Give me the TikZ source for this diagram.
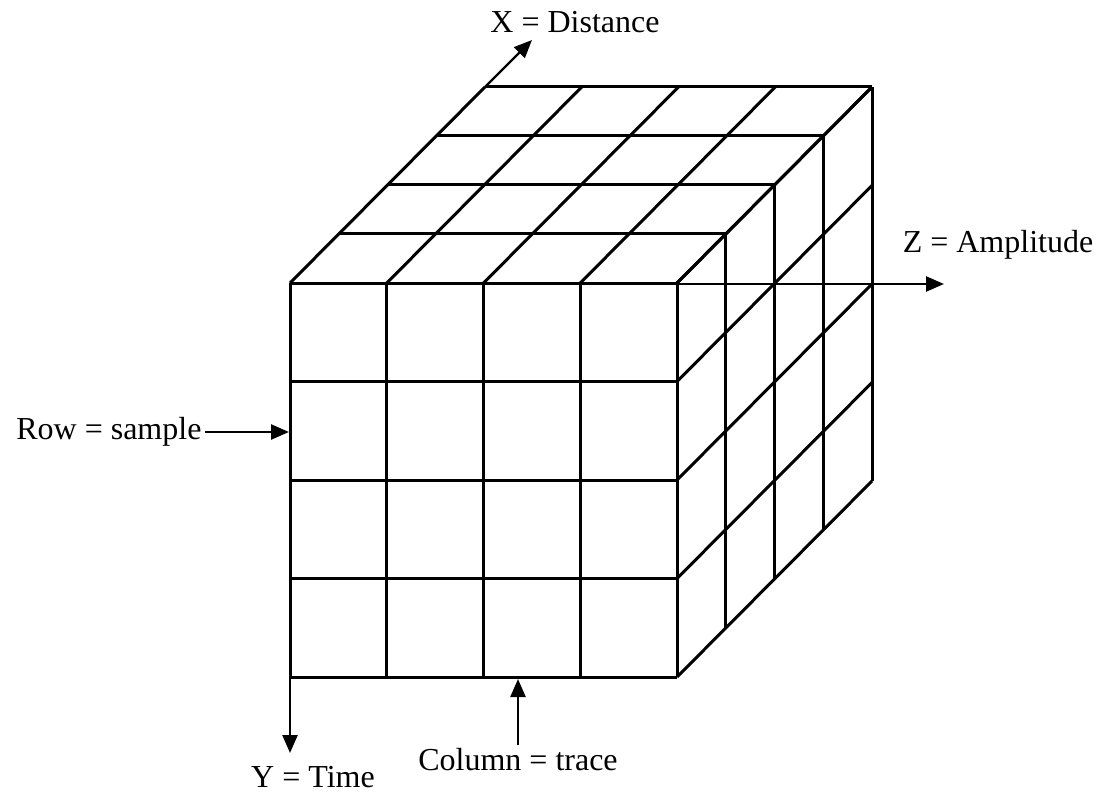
\documentclass[tikz,border=0pt]{standalone}
\usepackage{fontspec}
\setmainfont{Liberation Serif}
\usepackage{tikz}
\usetikzlibrary{arrows.meta}
\tikzset{
  gridline/.style={line width=3pt, draw=black},
  axis/.style={-{Triangle[length=18pt,width=15pt]}, line width=2.4pt, draw=black},
  lbl/.style={font=\fontsize{32}{38}\selectfont, text=black}
}
\begin{document}
\begin{tikzpicture}[x=1pt,y=-1pt]
  \useasboundingbox (0,0) rectangle (1102,794);

  % Front face
  \foreach \i in {0,...,4} {
    \draw[gridline] (290+96.75*\i,283) -- (290+96.75*\i,677);
    \draw[gridline] (290,283+98.5*\i) -- (677,283+98.5*\i);
  }

  % Top face
  \foreach \i in {0,...,4} {
    \draw[gridline] (290+96.75*\i,283) -- ++(195,-196);
    \draw[gridline] (290+48.75*\i,283-49*\i) -- ++(387,0);
  }

  % Right face
  \foreach \i in {0,...,4} {
    \draw[gridline] (677,283+98.5*\i) -- ++(195,-196);
    \draw[gridline] (677+48.75*\i,283-49*\i) -- ++(0,394);
  }

  % Axis origins and tips
  \coordinate (xorig) at (485,87);
  \coordinate (xtip) at (532,40);
  \coordinate (zorig) at (677,284);
  \coordinate (ztip) at (944,284);
  \coordinate (yorig) at (290,677);
  \coordinate (ytip) at (290,753);
  \coordinate (rowtip) at (289,432);
  \coordinate (coltip) at (518,679);

  % Labels
  \node[lbl] (xlab) at (575,22) {X = Distance};
  \node[lbl] (zlab) at (998,245) {Z = Amplitude};
  \node[lbl] (ylab) at (313,777) {Y = Time};
  \node[lbl] (collab) at (518,760) {Column = trace};
  \node[lbl,anchor=east] (rowlab) at (205,432) {Row = sample};

  % Arrows
  \draw[axis] (xorig) -- (xtip);
  \draw[axis] (zorig) -- (ztip);
  \draw[axis] (yorig) -- (ytip);
  \draw[axis] (rowlab.east) -- (rowtip);
  \draw[axis] (collab.north) -- (coltip);
\end{tikzpicture}
\end{document}
